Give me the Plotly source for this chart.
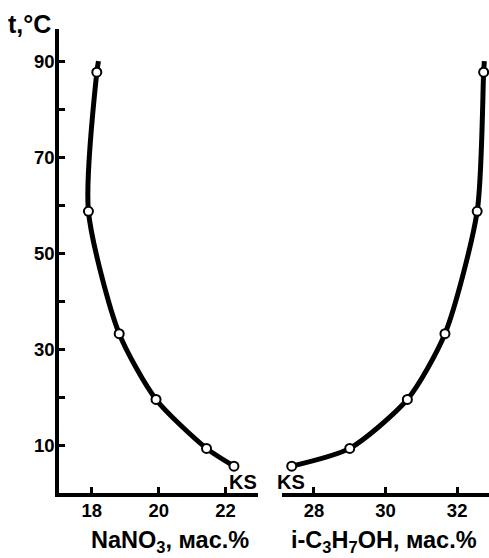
import plotly.graph_objects as go

# Solubility isotherm data: temperature vs. composition of the liquid phase
t_points = [5.6, 9.3, 19.5, 33.2, 58.7, 87.7]
nano3_pct = [22.25, 21.43, 19.92, 18.82, 17.90, 18.15]
ipa_pct = [27.38, 29.00, 30.61, 31.66, 32.56, 32.74]

# Curves continue past the last measured point up to the top of the chart
t_end = 90
nano3_end = 18.20
ipa_end = 32.76

y_ticks = [10, 30, 50, 70, 90]
y_minor_ticks = [20, 40, 60, 80]
x1_ticks = [18, 20, 22]
x2_ticks = [28, 30, 32]

FONT = "Liberation Sans, Arial, sans-serif"
W, H = 489, 558
ML, MR, MT, MB = 59, 0, 29, 65
PW = W - ML - MR
PH = H - MT - MB


def px_x(px):
    return (px - ML) / PW


def px_y(py):
    return (H - MB - py) / PH


fig = go.Figure()

line_style = dict(color="black", width=5, shape="spline", smoothing=0.7)
marker_style = dict(symbol="circle", size=9, color="white",
                    line=dict(color="black", width=2))

fig.add_trace(go.Scatter(x=nano3_pct + [nano3_end], y=t_points + [t_end],
                         mode="lines", line=line_style, xaxis="x", yaxis="y",
                         hoverinfo="skip"))
fig.add_trace(go.Scatter(x=nano3_pct, y=t_points, mode="markers",
                         marker=marker_style, xaxis="x", yaxis="y"))
fig.add_trace(go.Scatter(x=ipa_pct + [ipa_end], y=t_points + [t_end],
                         mode="lines", line=line_style, xaxis="x2", yaxis="y",
                         hoverinfo="skip"))
fig.add_trace(go.Scatter(x=ipa_pct, y=t_points, mode="markers",
                         marker=marker_style, xaxis="x2", yaxis="y"))

tick_font = dict(family=FONT, size=18.5, color="black", weight="bold")
axis_common = dict(showgrid=False, zeroline=False, showline=True,
                   linecolor="black", linewidth=3.5, ticks="inside",
                   ticklen=6, tickwidth=3, tickcolor="black",
                   tickfont=tick_font, fixedrange=True)

fig.update_layout(
    width=W, height=H,
    margin=dict(l=ML, r=MR, t=MT, b=MB),
    paper_bgcolor="white", plot_bgcolor="white",
    showlegend=False,
    xaxis=dict(domain=[0, px_x(257.7)], range=[17.02, 22.96],
               tickvals=x1_ticks, anchor="y", ticklabelstandoff=-2,
               **axis_common),
    xaxis2=dict(domain=[px_x(281.7), 1], range=[27.10, 32.89],
                tickvals=x2_ticks, anchor="y", ticklabelstandoff=-2,
                **axis_common),
    yaxis=dict(range=[0, 96.7], tickvals=y_ticks, anchor="x",
               ticklabelstandoff=-3,
               minor=dict(tickvals=y_minor_ticks, ticks="inside", ticklen=6,
                          tickwidth=3, tickcolor="black", showgrid=False),
               **axis_common),
)

ann_font_big = dict(family=FONT, size=23.5, color="black", weight="bold")
ann_font_t = dict(family=FONT, size=25, color="black", weight="bold")
ann_font_ks = dict(family=FONT, size=20, color="black", weight="bold")

annotations = [
    dict(text="t,°C", x=px_x(30), y=px_y(24), font=ann_font_t),
    dict(text="NaNO<sub>3</sub>, мас.%", x=px_x(170), y=px_y(541),
         font=ann_font_big),
    dict(text="i-C<sub>3</sub>H<sub>7</sub>OH, мас.%", x=px_x(384.3),
         y=px_y(541), font=ann_font_big),
    dict(text="KS", x=px_x(242.8), y=px_y(482), font=ann_font_ks),
    dict(text="KS", x=px_x(291.2), y=px_y(482), font=ann_font_ks),
]
for a in annotations:
    fig.add_annotation(xref="paper", yref="paper", showarrow=False,
                       xanchor="center", yanchor="middle", **a)

fig.write_html("out.html")
